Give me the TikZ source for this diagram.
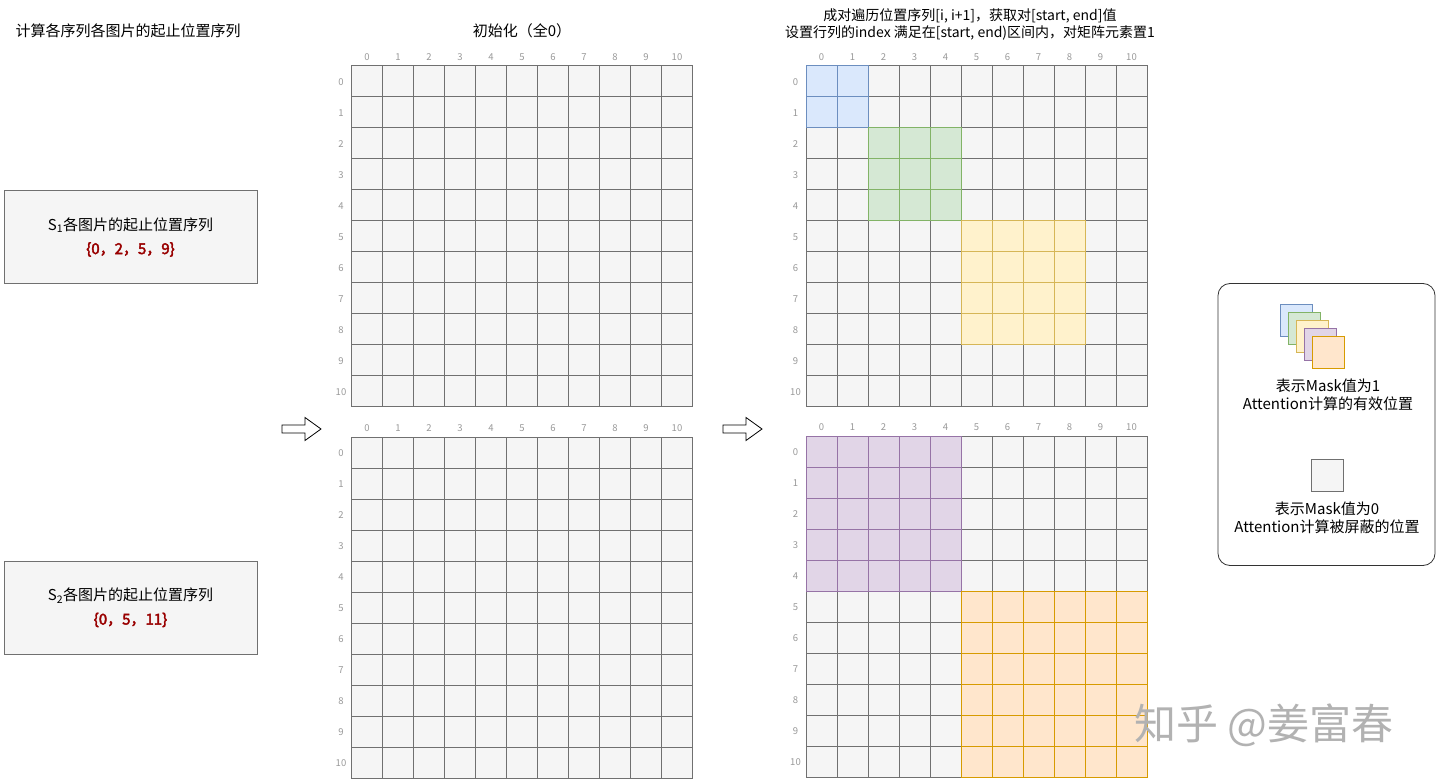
\documentclass[tikz,border=0pt]{standalone}
\usepackage{fontspec}
\setmainfont{Noto Sans CJK SC}[BoldFont={Noto Sans CJK SC},BoldFeatures={FakeBold=2.5}]
\usepackage{tikz}
\usetikzlibrary{positioning}
\definecolor{cellgray}{HTML}{F5F5F5}
\definecolor{linegray}{HTML}{707070}
\definecolor{idxgray}{HTML}{999999}
\definecolor{seqred}{HTML}{990000}
\definecolor{fillblue}{HTML}{DAE8FC}
\definecolor{lineblue}{HTML}{6C8EBF}
\definecolor{fillgreen}{HTML}{D5E8D4}
\definecolor{linegreen}{HTML}{82B366}
\definecolor{fillyellow}{HTML}{FFF2CC}
\definecolor{lineyellow}{HTML}{D6B656}
\definecolor{fillpurple}{HTML}{E1D5E7}
\definecolor{linepurple}{HTML}{9673A6}
\definecolor{fillorange}{HTML}{FFE6CC}
\definecolor{lineorange}{HTML}{D79B00}

\begin{document}
\begin{tikzpicture}[x=1pt,y=-1pt,font=\fontsize{15}{18}\selectfont,
    cell/.style={draw=linegray,fill=cellgray,line width=0.7pt},
    idx/.style={text=idxgray,font=\fontsize{9.5}{11}\selectfont,inner sep=0pt},
    seqbox/.style={draw=linegray,fill=cellgray,line width=0.8pt,minimum width=253pt,
        minimum height=93pt,align=center,font=\fontsize{15}{24}\selectfont},
    blockarrow/.style={draw=black,fill=white,line width=0.8pt,line join=miter},
    keysq/.style={minimum size=32pt,inner sep=0pt,line width=0.8pt},
    keytext/.style={align=center,inner sep=0pt},
    legendbox/.style={draw=black!80,line width=0.8pt,rounded corners=12pt,
        minimum width=217pt,minimum height=282pt},
    watermark/.style={text=black!30,font=\fontsize{42}{46}\selectfont}]
    \fill[white] (0,0) rectangle (1440,783);
    \useasboundingbox (0,0) rectangle (1440,783);

    % titles
    \node[anchor=west] (title1) at (12,31) {计算各序列各图片的起止位置序列};
    \node (title2) at (522,31) {初始化（全0）};
    \node[align=center,font=\fontsize{14}{17}\selectfont] (title3) at (970,24.5)
        {成对遍历位置序列[i, i+1]，获取对[start, end]值\\设置行列的index 满足在[start, end)区间内，对矩阵元素置1};

    % sequences
    \node[seqbox] (s1) at (130.5,237) {S\textsubscript{1}各图片的起止位置序列\\\textcolor{seqred}{\textbf{\{0，2，5，9\}}}};
    \node[seqbox] (s2) at (130.5,607.5) {S\textsubscript{2}各图片的起止位置序列\\\textcolor{seqred}{\textbf{\{0，5，11\}}}};

    % grids
    \foreach \gn/\gx/\gy in {ini1/351.5/65.7, ini2/351.5/437, set1/806/65.7, set2/806/436} {
        \foreach \r in {0,...,10}
            \foreach \c in {0,...,10}
                \draw[cell] ({\gx+\c*31},{\gy+\r*31}) rectangle ++(31,31);
        \foreach \k in {0,...,10} {
            \node[idx] (\gn-c\k) at ({\gx+\k*31+15.5},{\gy-9}) {\k};
            \node[idx] (\gn-r\k) at ({\gx-10.5},{\gy+\k*31+16.5}) {\k};
        }
    }

    % mask blocks
    \foreach \gx/\gy/\s/\n/\col in {806/65.7/0/2/blue, 806/65.7/2/3/green, 806/65.7/5/4/yellow,
            806/436/0/5/purple, 806/436/5/6/orange}
        \foreach \i in {1,...,\n}
            \foreach \j in {1,...,\n}
                \draw[fill=fill\col,draw=line\col,line width=0.7pt]
                    ({\gx+(\s+\i-1)*31},{\gy+(\s+\j-1)*31}) rectangle ++(31,31);

    % arrows
    \coordinate (arr1) at (282,429);
    \coordinate (arr2) at (723,429);
    \foreach \a in {arr1,arr2}
        \draw[blockarrow] (\a) -- ++(0,-4) -- ++(23,0) -- ++(0,-7.5) -- ++(16,11.5)
            -- ++(-16,11.5) -- ++(0,-7.5) -- ++(-23,0) -- cycle;

    % legend
    \node[legendbox] (legend) at (1326.5,424.5) {};
    \foreach \k/\col in {0/blue,1/green,2/yellow,3/purple,4/orange}
        \node[keysq,fill=fill\col,draw=line\col] (key\k) at ({1296+8*\k},{320+8*\k}) {};
    \node[keytext] (keytext1) [below=10pt of key4] {表示Mask值为1\\Attention计算的有效位置};
    \node[keysq,fill=cellgray,draw=linegray] (key5) at (1327,475) {};
    \node[keytext] (keytext2) [below=10pt of key5] {表示Mask值为0\\Attention计算被屏蔽的位置};

    \node[watermark] (zhihu) at (1264,725) {知乎 @姜富春};
\end{tikzpicture}
\end{document}
